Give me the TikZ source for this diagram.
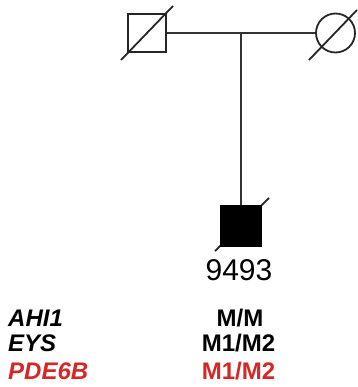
\documentclass[tikz,border=0pt]{standalone}
\usepackage{fontspec}
\setmainfont{Liberation Sans}
\definecolor{gred}{RGB}{214,38,38}
\begin{document}
\begin{tikzpicture}[x=1pt,y=-1pt,
  shp/.style={draw=black!85,line width=1.8pt},
  lnk/.style={draw=black!80,line width=1.6pt},
  slash/.style={draw=black!85,line width=1.8pt},
  gene/.style={anchor=base west,inner sep=0pt,font=\fontsize{24}{28}\selectfont\bfseries\itshape},
  geno/.style={anchor=base,inner sep=0pt,font=\fontsize{24}{28}\selectfont\bfseries}]
\useasboundingbox (0,0) rectangle (357,387);
\draw[slash] (215,251) -- (269,198);
\node[shp,minimum size=38pt,inner sep=0pt] (fa) at (147,33) {};
\node[shp,circle,minimum size=39pt,inner sep=0pt] (mo) at (335.5,33) {};
\node[draw=black,fill=black,line width=1.8pt,minimum size=40pt,inner sep=0pt] (ch) at (241,226) {};
\coordinate (mid) at (241,33);
\draw[lnk] (fa.east) -- (mo.west);
\draw[lnk] (mid) -- (ch.north);
\draw[slash] (121,60) -- (173,6);
\draw[slash] (309,60) -- (357,10);
\node[anchor=base,inner sep=0pt,font=\fontsize{30}{34}\selectfont] (id) at (239,280.7) {9493};
\node[gene] (g1) at (8,326) {AHI1};
\node[gene] (g2) at (8,351.7) {EYS};
\node[gene,text=gred] (g3) at (8,379.3) {PDE6B};
\node[geno] (m1) at (240,326) {M/M};
\node[geno] (m2) at (238.5,351.7) {M1/M2};
\node[geno,text=gred] (m3) at (238.5,379.3) {M1/M2};
\end{tikzpicture}
\end{document}
